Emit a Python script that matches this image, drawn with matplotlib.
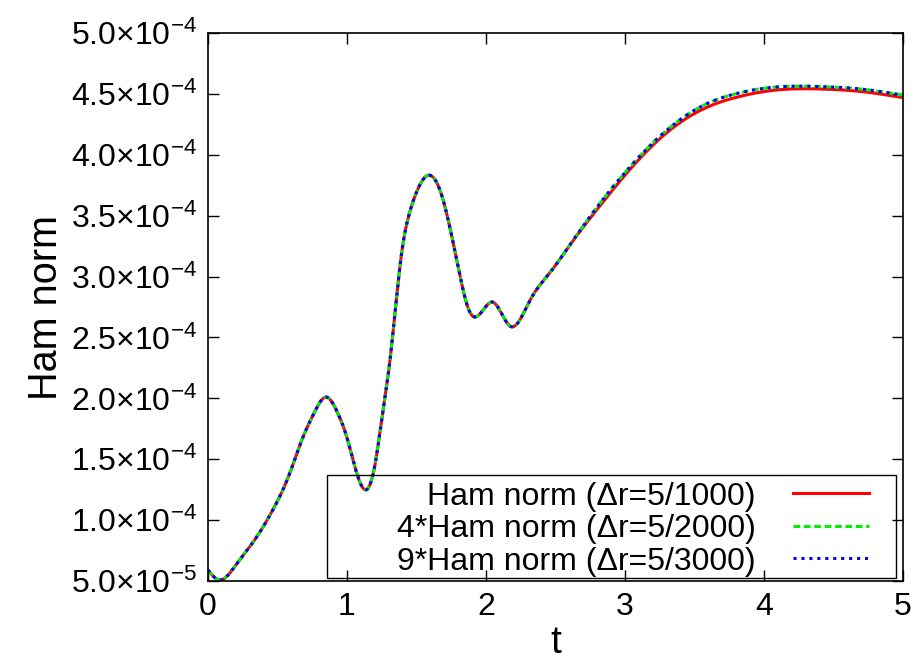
import numpy as np
import matplotlib
matplotlib.use("Agg")
import matplotlib.pyplot as plt
from matplotlib.patches import Rectangle
from matplotlib.ticker import FuncFormatter, MultipleLocator

plt.rcParams["font.family"] = ["Liberation Sans", "DejaVu Sans"]
plt.rcParams["mathtext.fontset"] = "custom"
plt.rcParams["mathtext.rm"] = "Liberation Sans"
plt.rcParams["mathtext.it"] = "Liberation Sans"

# =========================
# Data (in units of 1e-4)
# =========================
t = [0.0, 0.086, 0.2, 0.338, 0.47, 0.54, 0.61, 0.68, 0.76, 0.85, 0.93, 1.0,
     1.07, 1.14, 1.20, 1.26, 1.31, 1.36, 1.40, 1.45, 1.50, 1.58, 1.67, 1.74,
     1.81, 1.88, 1.93, 2.05, 2.18, 2.32, 2.46, 2.58, 2.82, 3.06, 3.30, 3.59,
     3.83, 4.07, 4.42, 4.7, 5.0]

ham_1000 = [0.59, 0.508, 0.63, 0.84, 1.09, 1.25, 1.45, 1.67, 1.87, 2.01, 1.89,
            1.68, 1.39, 1.25, 1.44, 1.90, 2.31, 2.86, 3.24, 3.52, 3.69, 3.83,
            3.71, 3.41, 3.03, 2.72, 2.67, 2.79, 2.59, 2.81, 3.03, 3.22, 3.58,
            3.91, 4.18, 4.39, 4.48, 4.53, 4.54, 4.52, 4.47]

ham_2000 = [0.59, 0.508, 0.63, 0.84, 1.09, 1.25, 1.45, 1.67, 1.87, 2.01, 1.89,
            1.68, 1.39, 1.25, 1.44, 1.90, 2.31, 2.86, 3.24, 3.52, 3.69, 3.83,
            3.71, 3.41, 3.03, 2.72, 2.67, 2.79, 2.59, 2.81, 3.03, 3.22, 3.60,
            3.93, 4.20, 4.42, 4.51, 4.555, 4.56, 4.54, 4.49]

ham_3000 = [0.59, 0.508, 0.63, 0.84, 1.09, 1.25, 1.45, 1.67, 1.87, 2.01, 1.89,
            1.68, 1.39, 1.25, 1.44, 1.90, 2.31, 2.86, 3.24, 3.52, 3.69, 3.83,
            3.71, 3.41, 3.03, 2.72, 2.67, 2.79, 2.59, 2.81, 3.03, 3.22, 3.60,
            3.93, 4.20, 4.42, 4.51, 4.555, 4.56, 4.54, 4.49]

labels = ["Ham norm (\u0394r=5/1000)",
          "4*Ham norm (\u0394r=5/2000)",
          "9*Ham norm (\u0394r=5/3000)"]

# smooth curves through the read points
tt = np.linspace(0, 5, 1000)


def smooth(x, y):
    # natural cubic spline
    x = np.asarray(x, float)
    y = np.asarray(y, float) * 1e-4
    n = len(x)
    h = np.diff(x)
    A = np.zeros((n, n))
    r = np.zeros(n)
    A[0, 0] = A[-1, -1] = 1.0
    for i in range(1, n - 1):
        A[i, i - 1] = h[i - 1]
        A[i, i] = 2 * (h[i - 1] + h[i])
        A[i, i + 1] = h[i]
        r[i] = 6 * ((y[i + 1] - y[i]) / h[i] - (y[i] - y[i - 1]) / h[i - 1])
    M = np.linalg.solve(A, r)
    k = np.clip(np.searchsorted(x, tt) - 1, 0, n - 2)
    a = x[k + 1] - tt
    b = tt - x[k]
    hk = h[k]
    return (M[k] * a**3 / (6 * hk) + M[k + 1] * b**3 / (6 * hk)
            + (y[k] / hk - M[k] * hk / 6) * a
            + (y[k + 1] / hk - M[k + 1] * hk / 6) * b)


# =========================
# Plot
# =========================
fig = plt.figure(figsize=(9.24, 6.61), dpi=100)
ax = fig.add_axes([0.225, 0.121, 0.752, 0.829])

ax.plot(tt, smooth(t, ham_1000), color="#ff0000", lw=2.2, ls="-", label=labels[0])
ax.plot(tt, smooth(t, ham_2000), color="#00ee00", lw=2.2, ls=(0, (2.2, 1.2)), label=labels[1])
ax.plot(tt, smooth(t, ham_3000), color="#0000ff", lw=2.2, ls=(0, (1, 1.6)), label=labels[2])

ax.set_xlim(0, 5)
ax.set_ylim(5e-5, 5e-4)
ax.xaxis.set_major_locator(MultipleLocator(1))
ax.yaxis.set_major_locator(MultipleLocator(5e-5))


def fmt(v, pos):
    if v <= 0:
        return "0"
    e = int(np.floor(np.log10(v) + 1e-9))
    m = v / 10**e
    return r"%.1f$\times$10$^{%d}$" % (m, e)


ax.yaxis.set_major_formatter(FuncFormatter(fmt))
ax.tick_params(direction="in", length=8, width=1, labelsize=23,
               top=True, right=True, pad=8)
for sp in ax.spines.values():
    sp.set_linewidth(1.2)

ax.set_xlabel("t", fontsize=28, labelpad=2)
ax.set_ylabel("Ham norm", fontsize=28.5, labelpad=4)

# legend: right-aligned entries, unfilled gnuplot-style box drawn separately
leg = ax.legend(loc="lower right", bbox_to_anchor=(0.952, 0.008),
                markerfirst=False, fontsize=23, frameon=False,
                handlelength=2.4, handletextpad=1.15, labelspacing=0.08,
                borderpad=0.0, borderaxespad=0.0)
ax.add_patch(Rectangle((0.171, 0.0055), 0.82, 0.1875, transform=ax.transAxes,
                       fill=False, edgecolor="black", lw=1.0, zorder=5))

plt.savefig("out.png", dpi=100)
